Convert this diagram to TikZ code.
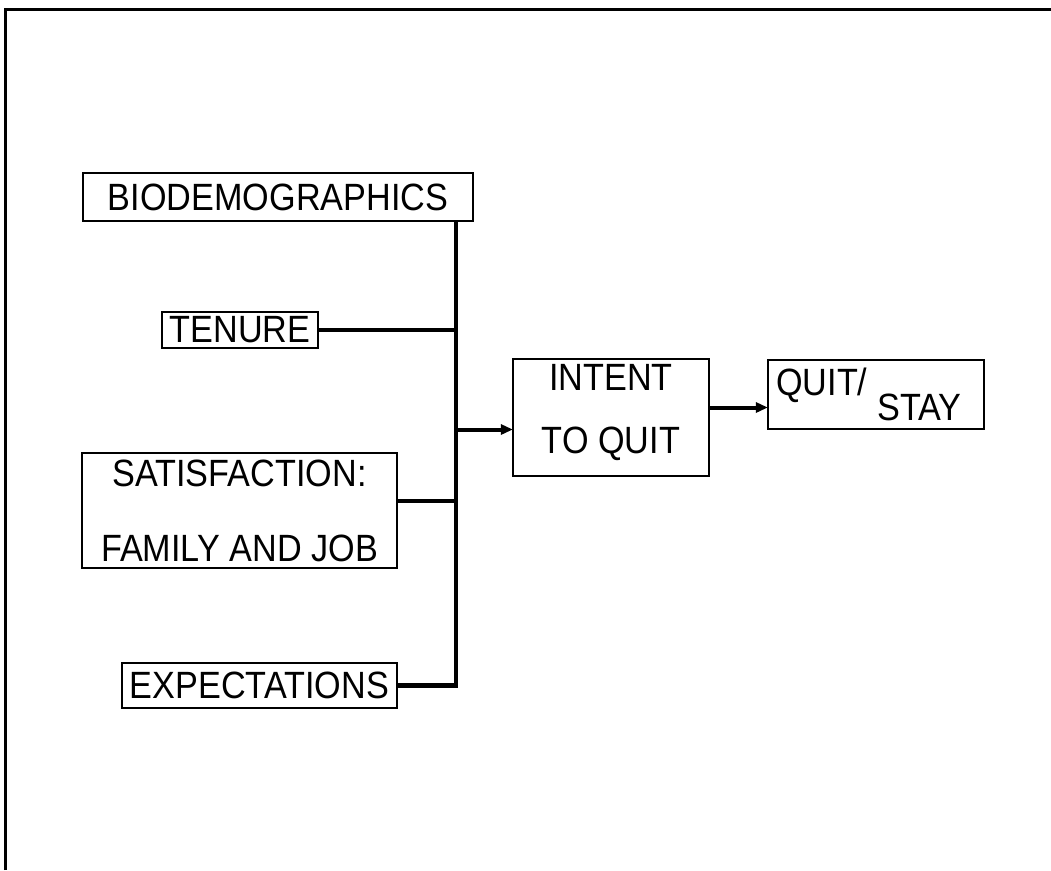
\documentclass[tikz,border=0pt]{standalone}
\usepackage{fontspec}
\setmainfont{Liberation Sans}[FakeStretch=0.9]
\usetikzlibrary{arrows.meta}
\begin{document}
\begin{tikzpicture}[x=1pt,y=-1pt,
  box/.style={draw=black, line width=1.3pt, inner sep=0pt},
  txt/.style={inner sep=0pt, font=\fontsize{38}{38}\selectfont},
  conn/.style={line width=4pt},
  busline/.style={line width=4.5pt, line join=miter},
  arr/.style={line width=4pt, -{Triangle[length=12pt,width=10pt]}, shorten >=-0.5pt}]
\useasboundingbox (0,0) rectangle (1051,870);
% frame
\draw[line width=3pt] (5,870) -- (5,9) -- (1051,9);
% boxes
\node[box, minimum width=390pt, minimum height=48pt, font=\fontsize{38}{38}\selectfont] (bio) at (278,197) {BIODEMOGRAPHICS};
\node[box, minimum width=156pt, minimum height=36pt, font=\fontsize{38}{38}\selectfont] (ten) at (240,330) {TENURE};
\node[box, minimum width=315pt, minimum height=115pt] (sat) at (239.5,510.5) {};
\node[txt, align=center, font=\fontsize{38}{75}\selectfont] (sattxt) at (239.5,511) {SATISFACTION:\\FAMILY AND JOB};
\node[box, minimum width=275pt, minimum height=45pt, font=\fontsize{38}{38}\selectfont] (exp) at (259.5,685.5) {EXPECTATIONS};
\node[box, minimum width=196pt, minimum height=117pt] (int) at (611,417.5) {};
\node[txt, align=center, font=\fontsize{38}{63}\selectfont] (inttxt) at (611,413) {INTENT\\TO QUIT};
\node[box, minimum width=216pt, minimum height=69pt] (qs) at (876,394.5) {};
\node[txt, anchor=base west] (qstxt) at (776,395) {QUIT/\hspace{10pt}\raisebox{-25pt}{STAY}};
% connectors
\coordinate (busx) at (456,0);
\draw[busline] (bio.south -| busx) |- (exp.east);
\draw[conn] (ten.east) -- (ten.east -| busx);
\path ([yshift=10pt]sat.east) coordinate (satj);
\draw[conn] (satj) -- (satj -| busx);
\path ([yshift=-12pt]int.west) coordinate (intin);
\draw[arr] (intin -| busx) -- (intin);
\path ([yshift=10pt]int.east) coordinate (intout);
\draw[arr] (intout) -- (intout -| qs.west);
\end{tikzpicture}
\end{document}
